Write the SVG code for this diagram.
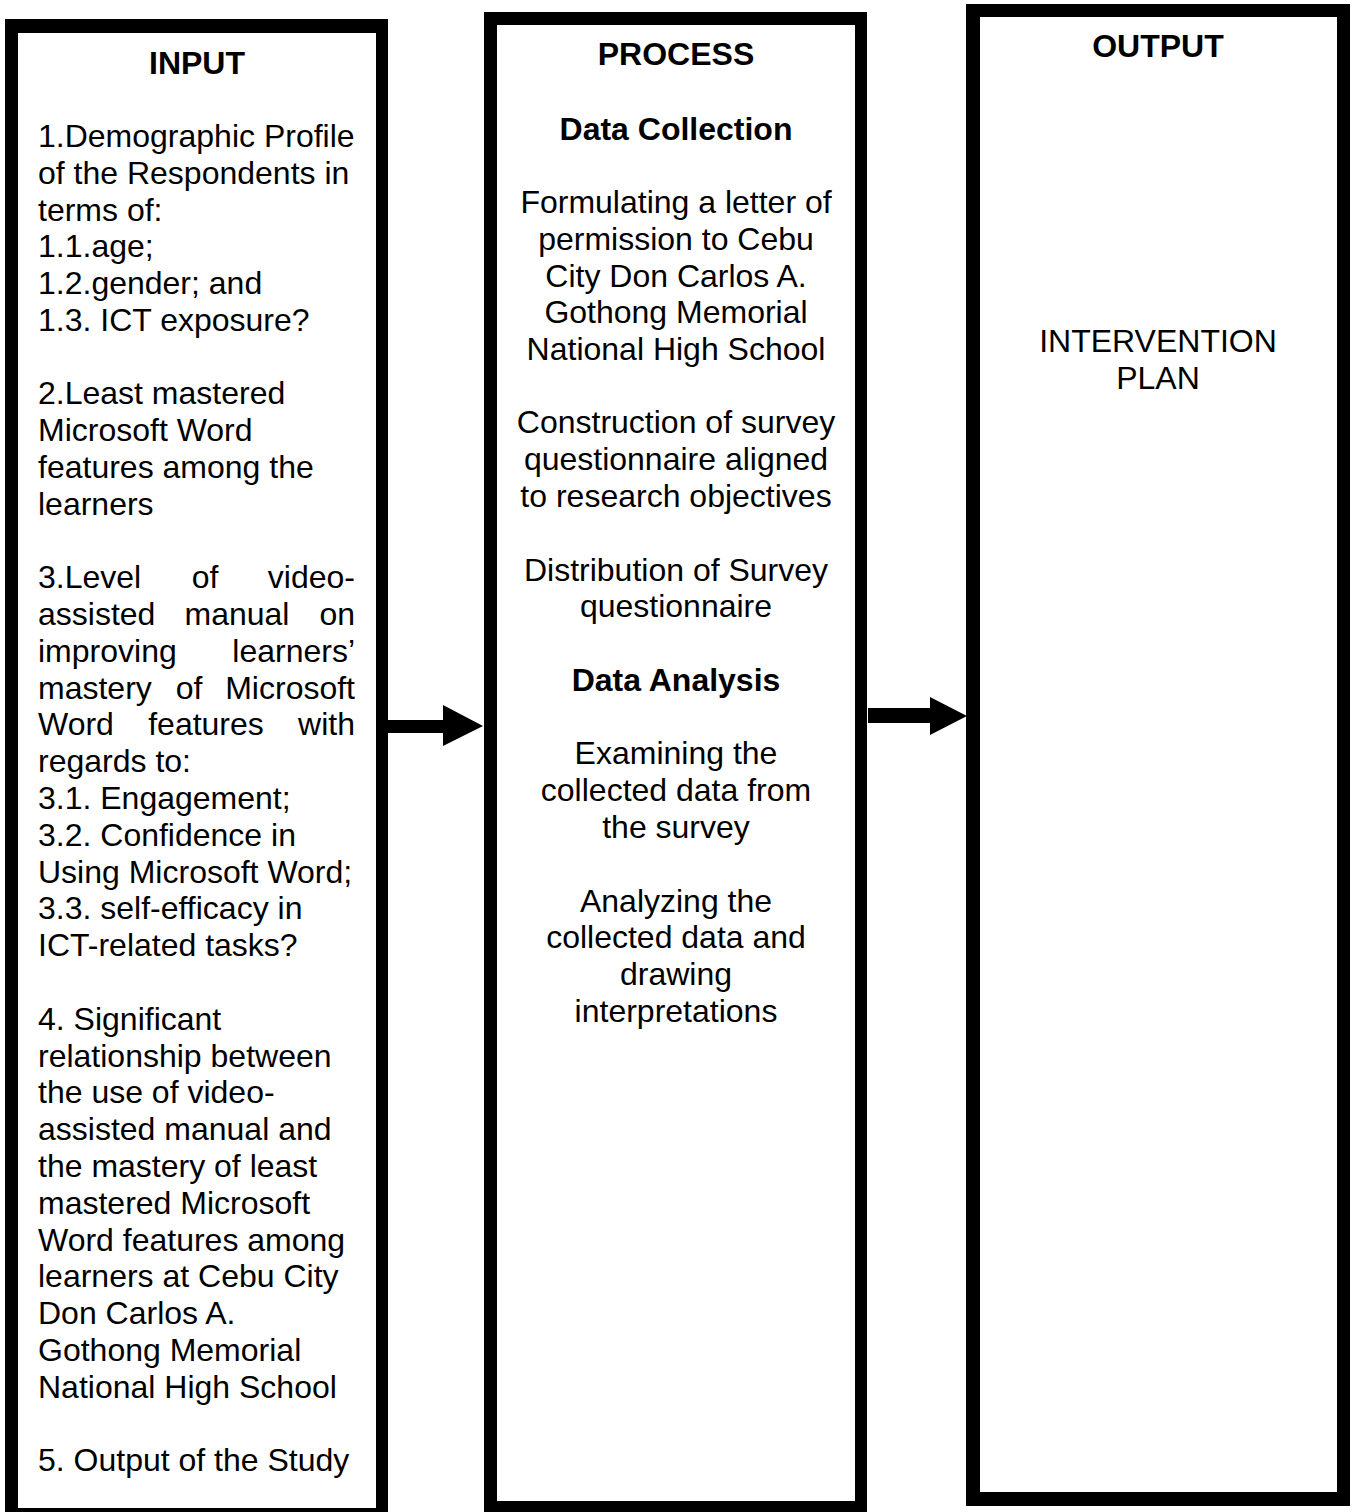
<svg xmlns="http://www.w3.org/2000/svg" width="1352" height="1512" viewBox="0 0 1352 1512">
<style>
.frame{fill:#000}
.inner{fill:#fff}
text{font-family:"Liberation Sans",Arial,sans-serif;font-size:32px;fill:#000}
.b{font-weight:bold}
.c{text-anchor:middle}
.e{text-anchor:end}
.arrow{fill:#000}
</style>
<rect width="1352" height="1512" fill="#fff"/>
<g id="input">
<rect class="frame" x="5" y="19" width="383" height="1500"/>
<rect class="inner" x="18" y="33" width="358" height="1475"/>
<g transform="translate(0,1.5)">
<text class="b c" x="197" y="72" font-size="31">INPUT</text>
<text x="38" y="145">1.Demographic Profile</text>
<text x="38" y="182">of the Respondents in</text>
<text x="38" y="219">terms of:</text>
<text x="38" y="255">1.1.age;</text>
<text x="38" y="292">1.2.gender; and</text>
<text x="38" y="329">1.3. ICT exposure?</text>
<text x="38" y="402">2.Least mastered</text>
<text x="38" y="439">Microsoft Word</text>
<text x="38" y="476">features among the</text>
<text x="38" y="513">learners</text>
<text x="38" y="586">3.Level</text><text class="c" x="205" y="586">of</text><text class="e" x="355" y="586">video-</text>
<text x="38" y="623">assisted</text><text class="c" x="237" y="623">manual</text><text class="e" x="355" y="623">on</text>
<text x="38" y="660">improving</text><text class="e" x="355" y="660">learners’</text>
<text x="38" y="697">mastery</text><text class="c" x="189" y="697">of</text><text class="e" x="355" y="697">Microsoft</text>
<text x="38" y="733">Word</text><text class="c" x="206" y="733">features</text><text class="e" x="355" y="733">with</text>
<text x="38" y="770">regards to:</text>
<text x="38" y="807">3.1. Engagement;</text>
<text x="38" y="844">3.2. Confidence in</text>
<text x="38" y="881">Using Microsoft Word;</text>
<text x="38" y="917">3.3. self-efficacy in</text>
<text x="38" y="954">ICT-related tasks?</text>
<text x="38" y="1028">4. Significant</text>
<text x="38" y="1065">relationship between</text>
<text x="38" y="1101">the use of video-</text>
<text x="38" y="1138">assisted manual and</text>
<text x="38" y="1175">the mastery of least</text>
<text x="38" y="1212">mastered Microsoft</text>
<text x="38" y="1249">Word features among</text>
<text x="38" y="1285">learners at Cebu City</text>
<text x="38" y="1322">Don Carlos A.</text>
<text x="38" y="1359">Gothong Memorial</text>
<text x="38" y="1396">National High School</text>
<text x="38" y="1469">5. Output of the Study</text>
</g>
</g>
<g id="process">
<rect class="frame" x="484" y="12" width="383" height="1510"/>
<rect class="inner" x="497" y="25" width="358" height="1476"/>
<g transform="translate(0,1.5)">
<text class="b c" x="676" y="63" font-size="31">PROCESS</text>
<text class="b c" x="676" y="138">Data Collection</text>
<text class="c" x="676" y="211">Formulating a letter of</text>
<text class="c" x="676" y="248">permission to Cebu</text>
<text class="c" x="676" y="285">City Don Carlos A.</text>
<text class="c" x="676" y="321">Gothong Memorial</text>
<text class="c" x="676" y="358">National High School</text>
<text class="c" x="676" y="431">Construction of survey</text>
<text class="c" x="676" y="468">questionnaire aligned</text>
<text class="c" x="676" y="505">to research objectives</text>
<text class="c" x="676" y="579">Distribution of Survey</text>
<text class="c" x="676" y="615">questionnaire</text>
<text class="b c" x="676" y="689">Data Analysis</text>
<text class="c" x="676" y="762">Examining the</text>
<text class="c" x="676" y="799">collected data from</text>
<text class="c" x="676" y="836">the survey</text>
<text class="c" x="676" y="910">Analyzing the</text>
<text class="c" x="676" y="946">collected data and</text>
<text class="c" x="676" y="983">drawing</text>
<text class="c" x="676" y="1020">interpretations</text>
</g>
</g>
<g id="output">
<rect class="frame" x="966" y="4" width="384" height="1502"/>
<rect class="inner" x="980" y="17" width="357" height="1475"/>
<g transform="translate(0,1.5)">
<text class="b c" x="1158" y="55" font-size="31">OUTPUT</text>
<text class="c" x="1158" y="350">INTERVENTION</text>
<text class="c" x="1158" y="387">PLAN</text>
</g>
</g>
<g id="connectors">
<polygon class="arrow" points="388,720 443,720 443,705 483,726 443,746 443,733 388,733"/>
<polygon class="arrow" points="868,708 930,708 930,697 967,716 930,735 930,723 868,723"/>
</g>
</svg>
